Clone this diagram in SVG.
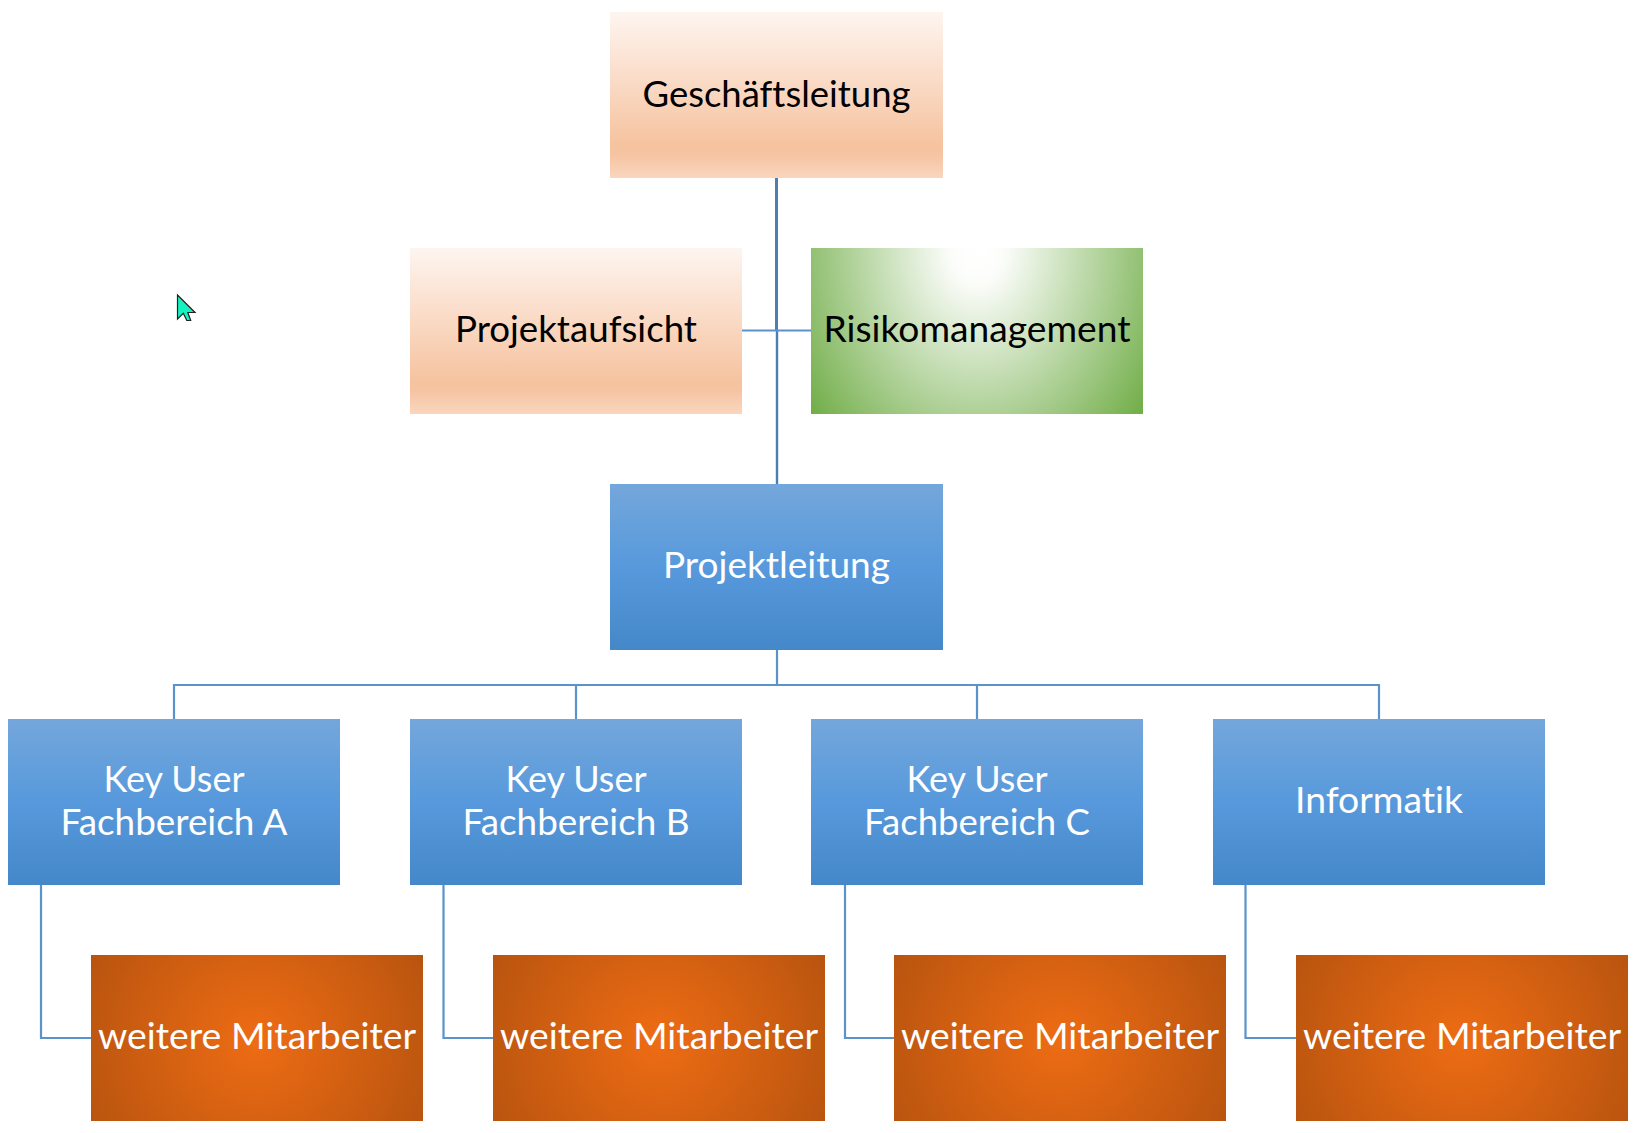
<svg xmlns="http://www.w3.org/2000/svg" width="1638" height="1133" viewBox="0 0 1638 1133">
<style>
text{font-family:Lato,"Liberation Sans",sans-serif;font-size:36.5px;text-anchor:middle;font-variant-ligatures:none}
.k{fill:#000}.w{fill:#fff}
.p{fill:url(#peach)}.b{fill:url(#blue)}.o{fill:url(#orange)}.g{fill:url(#green)}
.c{fill:none;stroke:#5a93cb;stroke-width:2.2}
.t{fill:none;stroke:#4a7fb4;stroke-width:3}
.u{fill:none;stroke:#4a7fb4;stroke-width:2.4}
</style>
<defs>
<linearGradient id="peach" x1="0" y1="0" x2="0" y2="1"><stop offset="0" stop-color="#fef5f0"/><stop offset=".8" stop-color="#f6c3a0"/><stop offset=".86" stop-color="#f6c4a2"/><stop offset="1" stop-color="#f9d6be"/></linearGradient>
<linearGradient id="blue" x1="0" y1="0" x2="0" y2="1"><stop offset="0" stop-color="#74a7db"/><stop offset=".5" stop-color="#5799dc"/><stop offset="1" stop-color="#4588c9"/></linearGradient>
<radialGradient id="orange" cx=".5" cy=".52" r="1" gradientTransform="translate(.5 .52) scale(.57 1.1) translate(-.5 -.52)"><stop offset="0" stop-color="#ee6c14"/><stop offset="1" stop-color="#b8540f"/></radialGradient>
<radialGradient id="green" cx=".5" cy="0" r="1" gradientTransform="translate(.5 0) scale(.66 1.7) translate(-.5 0)"><stop offset="0" stop-color="#ffffff"/><stop offset=".12" stop-color="#fcfdfb"/><stop offset=".96" stop-color="#70ad47"/></radialGradient>
</defs>
<rect width="1638" height="1133" fill="#fff"/>
<g id="connectors">
<path class="t" d="M776.500 178V330"/>
<path class="u" d="M777 330V484"/>
<path class="c" d="M742 330.500H811"/>
<path class="c" d="M777 650V685M174 719V685H1379V719M576 685V719M977 685V719"/>
<path class="c" d="M41 885V1038H91M443.500 885V1038H493M845 885V1038H894M1245.500 885V1038H1296"/>
</g>
<g id="n-gl"><rect class="p" x="610" y="12" width="333" height="166"/><text class="k" x="776.500" y="106.500" textLength="268" lengthAdjust="spacingAndGlyphs">Geschäftsleitung</text></g>
<g id="n-pa"><rect class="p" x="410" y="248" width="332" height="166"/><text class="k" x="576" y="341.500" textLength="242" lengthAdjust="spacingAndGlyphs">Projektaufsicht</text></g>
<g id="n-rm"><rect class="g" x="811" y="248" width="332" height="166"/><text class="k" x="977" y="341.500" textLength="307" lengthAdjust="spacingAndGlyphs">Risikomanagement</text></g>
<g id="n-pl"><rect class="b" x="610" y="484" width="333" height="166"/><text class="w" x="776.500" y="577.500" textLength="227" lengthAdjust="spacingAndGlyphs">Projektleitung</text></g>
<g id="n-a"><rect class="b" x="8" y="719" width="332" height="166"/><text class="w" x="174" y="791.500" textLength="141" lengthAdjust="spacingAndGlyphs">Key User</text><text class="w" x="174" y="834.500" textLength="227" lengthAdjust="spacingAndGlyphs">Fachbereich A</text></g>
<g id="n-b"><rect class="b" x="410" y="719" width="332" height="166"/><text class="w" x="576" y="791.500" textLength="141" lengthAdjust="spacingAndGlyphs">Key User</text><text class="w" x="576" y="834.500" textLength="227" lengthAdjust="spacingAndGlyphs">Fachbereich B</text></g>
<g id="n-c"><rect class="b" x="811" y="719" width="332" height="166"/><text class="w" x="977" y="791.500" textLength="141" lengthAdjust="spacingAndGlyphs">Key User</text><text class="w" x="977" y="834.500" textLength="226" lengthAdjust="spacingAndGlyphs">Fachbereich C</text></g>
<g id="n-i"><rect class="b" x="1213" y="719" width="332" height="166"/><text class="w" x="1379" y="813" textLength="168" lengthAdjust="spacingAndGlyphs">Informatik</text></g>
<g id="n-a1"><rect class="o" x="91" y="955" width="332" height="166"/><text class="w" x="257" y="1048.500" textLength="318" lengthAdjust="spacingAndGlyphs">weitere Mitarbeiter</text></g>
<g id="n-b1"><rect class="o" x="493" y="955" width="332" height="166"/><text class="w" x="659" y="1048.500" textLength="318" lengthAdjust="spacingAndGlyphs">weitere Mitarbeiter</text></g>
<g id="n-c1"><rect class="o" x="894" y="955" width="332" height="166"/><text class="w" x="1060" y="1048.500" textLength="318" lengthAdjust="spacingAndGlyphs">weitere Mitarbeiter</text></g>
<g id="n-i1"><rect class="o" x="1296" y="955" width="332" height="166"/><text class="w" x="1462" y="1048.500" textLength="318" lengthAdjust="spacingAndGlyphs">weitere Mitarbeiter</text></g>
<path id="cursor" d="M177.500 295V319L183.300 313.300L186.800 320.500H190.700L187.800 312.500H195Z" fill="#14f2c2" stroke="#222" stroke-width="1.200"/>
</svg>
